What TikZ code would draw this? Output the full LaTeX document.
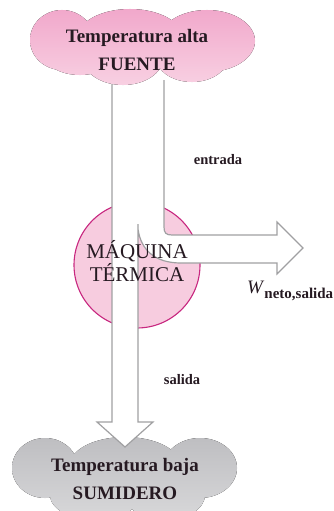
\documentclass[tikz,border=0pt]{standalone}
\usepackage{fontspec}
\setmainfont{Liberation Serif}
\usetikzlibrary{positioning}
\definecolor{pinktop}{RGB}{241,168,203}
\definecolor{pinkbot}{RGB}{248,208,226}
\definecolor{graytop}{RGB}{190,190,193}
\definecolor{graybot}{RGB}{216,216,218}
\definecolor{circfill}{RGB}{247,204,223}
\definecolor{circline}{RGB}{200,40,128}
\definecolor{flowgray}{RGB}{160,160,162}
\definecolor{inkdark}{RGB}{38,26,34}

\begin{document}
\begin{tikzpicture}[x=1pt,y=-1pt,
    flow/.style={draw=flowgray, fill=white, line width=1.2pt, line join=miter},
    cloudtext/.style={align=center, text=inkdark, font=\bfseries\fontsize{19}{28}\selectfont},
    lbl/.style={text=inkdark, font=\bfseries\fontsize{14.5}{17}\selectfont}]
    \useasboundingbox (0,0) rectangle (334,511);
    \clip (0,0) rectangle (334,511);

    % low temperature cloud
    \fill[top color=graytop, bottom color=graybot]
        (45,468) ellipse [x radius=33, y radius=30]
        (125,465) ellipse [x radius=55, y radius=28]
        (200,468) ellipse [x radius=37, y radius=30]
        (95,495) ellipse [x radius=45, y radius=25]
        (165,495) ellipse [x radius=40, y radius=25];

    % engine
    \node[circle, minimum size=126pt, draw=circline, fill=circfill, line width=1.1pt] (maquina) at (137,265) {};

    % heat flow and work
    \draw[flow] (112,80) -- (112,422) -- (97,422) -- (125,447) -- (153,422) -- (138,422) -- (138,224) -- (138,229)
        .. controls (141,251) and (156,263) .. (181,263) -- (277,263) -- (277,274) -- (303,248) -- (277,222)
        -- (277,235) -- (172,235) .. controls (166,235) and (164,233) .. (164,227) -- (164,80);

    % high temperature cloud
    \fill[top color=pinktop, bottom color=pinkbot]
        (62,40) ellipse [x radius=32, y radius=30]
        (130,37) ellipse [x radius=52, y radius=28]
        (207,41) ellipse [x radius=48, y radius=31]
        (123,58) ellipse [x radius=40, y radius=27]
        (192,57) ellipse [x radius=36, y radius=25]
        (80,55) ellipse [x radius=35, y radius=20];

    \node[cloudtext] (fuente) at (137,50) {Temperatura alta\\FUENTE};
    \node[cloudtext] (sumidero) at (125,479) {Temperatura baja\\SUMIDERO};
    \node[align=center, text=inkdark, font=\fontsize{21}{23}\selectfont] (maqtext) at (137,261) {MÁQUINA\\TÉRMICA};

    \node[lbl] (entrada) at (218,160) {entrada};
    \node[lbl] (salida) at (182,380) {salida};
    \node[anchor=base west, text=inkdark, inner sep=0pt] (wneto) at (247,293)
        {\fontsize{19}{20}\selectfont\textit{W}\raisebox{-5pt}{\bfseries\fontsize{15}{18}\selectfont neto,salida}};
\end{tikzpicture}
\end{document}
